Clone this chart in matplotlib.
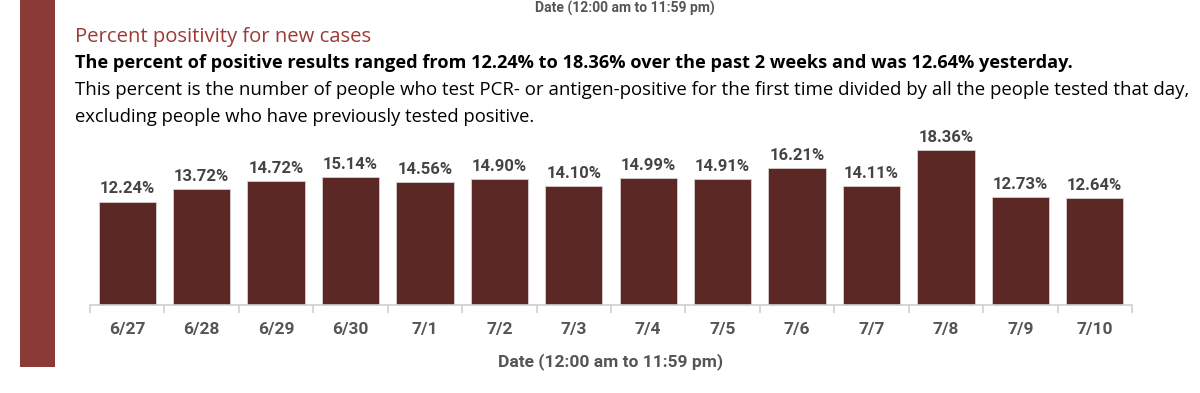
import matplotlib
matplotlib.use("Agg")
import matplotlib.pyplot as plt
from matplotlib.patches import Rectangle

dates = ["6/27", "6/28", "6/29", "6/30", "7/1", "7/2", "7/3", "7/4", "7/5", "7/6", "7/7", "7/8", "7/9", "7/10"]
positivity = [12.24, 13.72, 14.72, 15.14, 14.56, 14.90, 14.10, 14.99, 14.91, 16.21, 14.11, 18.36, 12.73, 12.64]
labels = [f"{v:.2f}%" for v in positivity]

title = "Percent positivity for new cases"
subtitle = "The percent of positive results ranged from 12.24% to 18.36% over the past 2 weeks and was 12.64% yesterday."
desc1 = "This percent is the number of people who test PCR- or antigen-positive for the first time divided by all the people tested that day,"
desc2 = "excluding people who have previously tested positive."
xlab = "Date (12:00 am to 11:59 pm)"

W, H = 1200, 393
fig = plt.figure(figsize=(W/100, H/100), dpi=100)
fig.patch.set_facecolor("white")

narrow = ["Roboto", "DejaVu Sans"]
body = ["Open Sans", "DejaVu Sans"]

# left accent stripe
fig.patches.append(Rectangle((20/W, 1-367/H), 35/W, 367/H, transform=fig.transFigure,
                             facecolor="#8B3A38", edgecolor="none"))

# partially visible text at top
fig.text(625/W, 1-1/H, xlab, ha="center", va="top", fontsize=10, color="#555555",
         family=narrow, fontweight="bold")

fig.text(75/W, 1-37/H, title, ha="left", va="center", fontsize=14.6, color="#9B3A35", family=body)
fig.text(75/W, 1-63/H, subtitle, ha="left", va="center", fontsize=13.1, color="black", family=body, fontweight="bold")
fig.text(75/W, 1-90/H, desc1, ha="left", va="center", fontsize=13.4, color="black", family=body)
fig.text(75/W, 1-117/H, desc2, ha="left", va="center", fontsize=13.2, color="black", family=body)

ax = fig.add_axes([90/W, 1-305/H, (1132-90)/W, 180/H])
x = range(len(dates))
bars = ax.bar(x, positivity, width=0.77, color="#5C2825", edgecolor="#d9cfcf", linewidth=0.6)
ax.set_xlim(-0.5, len(dates)-0.5)
ax.set_ylim(0, 21.3)
for xi, v, lab in zip(x, positivity, labels):
    ax.text(xi, v + 0.6, lab, ha="center", va="bottom", fontsize=12, color="#444444",
            family=narrow, fontweight="bold")

for s in ["top", "right", "left"]:
    ax.spines[s].set_visible(False)
ax.spines["bottom"].set_color("#d0d0d0")
ax.spines["bottom"].set_linewidth(1.2)
ax.set_yticks([])
ax.set_xticks(list(x))
ax.set_xticklabels(dates, family=narrow, fontsize=12.5, color="#555555", fontweight="bold")
ax.tick_params(axis="x", which="major", length=0, pad=12)
ax.set_xticks([i - 0.5 for i in range(len(dates)+1)], minor=True)
ax.tick_params(axis="x", which="minor", length=6, color="#d0d0d0", width=1.2)
ax.set_xlabel(xlab, family=narrow, fontsize=12.5, color="#555555", fontweight="bold", labelpad=12)

fig.savefig("out.png", dpi=100)
